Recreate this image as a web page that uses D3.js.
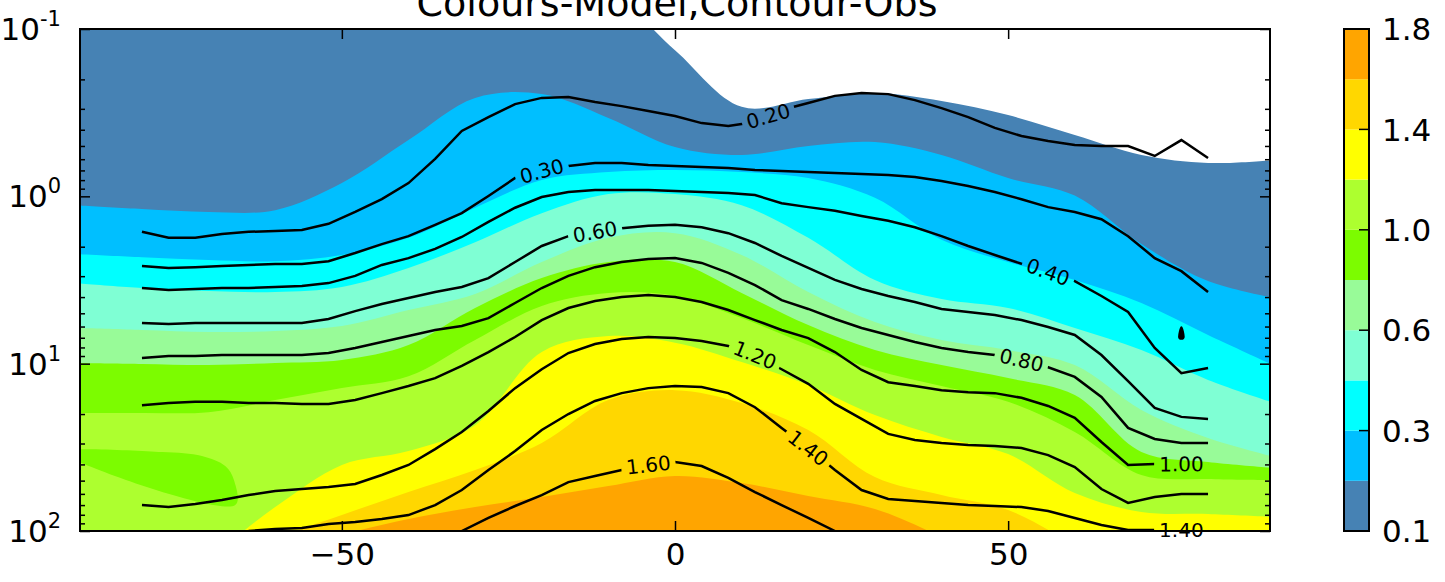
<!DOCTYPE html>
<html>
<head>
<meta charset="utf-8">
<script src="https://cdn.jsdelivr.net/npm/d3@7/dist/d3.min.js"></script>
<style>
html,body{margin:0;padding:0;background:#fff;}
svg{display:block;font-family:"DejaVu Sans",sans-serif;}
</style>
</head>
<body>
<svg id="chart" width="1445" height="582"></svg>
<script>
// ================= DATA =================
const titleText = "Colours-Model,Contour-Obs";
const levels = [0.1, 0.2, 0.3, 0.4, 0.6, 0.8, 1.0, 1.2, 1.4, 1.6, 1.8];
const levelColors = ["#4682b4","#00bfff","#00ffff","#7fffd4","#98fb98","#7cfc00","#adff2f","#ffff00","#ffd700","#ffa500"];
const colorbarTicks = [0.1, 0.3, 0.6, 1.0, 1.4, 1.8];
const xTicks = [-50, 0, 50];
const yMajorTicks = [0.1, 1, 10, 100];

// Model (filled) field: pressure (hPa) of each level boundary, per latitude
const modelLat = [-90,-80,-70,-60,-50,-40,-30,-20,-10,0,10,20,30,40,50,60,70,80,90];
const model010 = [0.05,0.05,0.05,0.05,0.05,0.05,0.05,0.05,0.06,0.134,0.292,0.262,0.241,0.269,0.327,0.43,0.566,0.632,0.607];
const model020 = [1.13,1.19,1.24,1.21,0.833,0.461,0.258,0.245,0.340,0.507,0.566,0.50,0.474,0.566,0.777,0.99,1.93,3.21,4.05];
const model030 = [2.21,2.31,2.40,2.44,2.24,1.77,1.17,0.799,0.716,0.696,0.716,0.777,1.02,1.82,2.47,3.16,4.34,6.74,10.3];
const model040 = [3.30,3.53,3.68,3.73,3.48,2.68,1.88,1.26,0.969,0.969,1.13,1.77,3.16,4.11,4.65,6.12,8.29,12.5,17.2];
const model060 = [6.12,6.29,6.47,6.38,5.96,4.78,3.83,2.47,1.77,1.66,2.24,3.73,5.64,7.22,8.29,10.2,18.9,27.8,36.1];
const model080 = [9.91,10.05,10.19,9.91,9.51,7.74,4.65,3.08,2.47,2.47,3.78,5.88,8.29,10.2,12.2,15.4,33.7,38.7,42.0];
const model100 = [19.7,19.7,19.5,16.5,14.0,11.9,7.22,4.52,3.78,3.94,5.34,7.74,10.9,13.6,16.9,25.6,46.3,48.9,49.6];
const model120 = [250,200,140,71.9,40.3,33.3,23.3,8.52,6.84,7.49,9.78,13.4,20.3,27.4,34.7,59.3,77.0,79.2,82.5];
const model140 = [280,250,200,113,80.3,58.5,43.2,29.8,16.5,14.4,17.2,24.9,47.6,61.0,75.0,121,200,250,280];
const model160 = [300,280,250,149,106,84.8,71.9,62.7,53.9,46.9,51.7,61.8,73.9,108.6,171,250,280,300,300];
// small region of lower values (0.8-1.0) at the lower left
const patchLat = [-92,-77,-71,-67.5,-66.2,-66,-92];
const patchP   = [33.7,33.7,35.6,40.9,49.6,70.0,70.0];

// Observed contours: pressure (hPa) of each contour level, per latitude
const obsLat = [-80,-76,-72,-68,-64,-60,-56,-52,-48,-44,-40,-36,-32,-28,-24,-20,-16,-12,-8,-4,0,4,8,12,16,20,24,28,32,36,40,44,48,52,56,60,64,68,72,76,80];
const obs020 = [1.63,1.77,1.77,1.68,1.63,1.61,1.59,1.46,1.24,1.04,0.833,0.598,0.407,0.336,0.281,0.258,0.255,0.273,0.289,0.309,0.331,0.365,0.38,0.36,0.305,0.277,0.251,0.241,0.245,0.266,0.297,0.336,0.39,0.436,0.467,0.494,0.50,0.50,0.574,0.461,0.59];
const obs030 = [2.61,2.68,2.65,2.61,2.57,2.54,2.54,2.44,2.18,1.93,1.73,1.48,1.26,0.995,0.777,0.706,0.659,0.632,0.632,0.650,0.659,0.668,0.677,0.696,0.706,0.716,0.726,0.736,0.746,0.767,0.81,0.868,0.942,1.04,1.16,1.24,1.37,1.73,2.34,2.80,3.73];
const obs040 = [3.53,3.63,3.58,3.53,3.53,3.48,3.43,3.30,2.99,2.57,2.34,2.06,1.75,1.42,1.17,1.01,0.942,0.917,0.917,0.917,0.929,0.942,0.955,0.982,1.10,1.16,1.22,1.31,1.40,1.53,1.73,1.98,2.24,2.53,2.83,3.21,3.94,4.91,8.06,11.4,10.6];
const obs060 = [5.72,5.80,5.72,5.72,5.72,5.72,5.72,5.41,4.85,4.40,4.05,3.73,3.48,3.08,2.47,1.98,1.73,1.63,1.55,1.50,1.48,1.53,1.66,1.90,2.27,2.68,3.16,3.58,3.94,4.28,4.71,4.91,5.12,5.49,6.04,6.74,8.88,12.7,18.4,20.8,21.4];
const obs080 = [9.25,9.0,9.0,8.88,8.88,8.88,8.88,8.64,8.06,7.42,6.84,6.29,5.96,5.34,4.34,3.53,2.99,2.65,2.47,2.37,2.34,2.50,2.87,3.39,4.17,4.71,5.41,6.12,6.74,7.42,8.06,8.52,8.88,9.51,10.5,12.0,15.8,24.2,28.2,29.8,29.8];
const obs100 = [17.7,17.2,16.9,16.9,17.2,17.2,17.4,17.4,16.5,15.0,13.6,12.2,10.3,8.52,6.93,5.49,4.65,4.22,4.00,3.89,4.00,4.28,4.78,5.49,6.29,7.03,8.52,10.9,12.9,13.6,14.4,14.8,15.0,16.0,17.9,21.1,29.4,40.3,39.8,39.8,39.8];
const obs120 = [70.0,71.9,69.0,65.3,61.0,57.7,56.1,54.6,52.4,46.3,40.3,32.4,25.6,19.2,14.0,10.8,8.64,7.63,7.13,6.93,7.03,7.32,7.84,8.88,10.8,13.2,17.4,21.4,26.3,28.6,29.8,30.6,31.1,31.9,35.2,41.5,56.1,68.0,62.7,60.1,60.1];
const obs140 = [null,null,null,null,100,97.3,96.0,90.8,88.4,84.8,80.3,70.0,56.9,43.2,33.3,24.9,20.0,16.7,15.0,14.0,13.6,13.8,15.0,18.2,24.2,31.9,43.2,56.9,64.4,66.2,68.0,70.0,70.9,71.9,76.0,83.6,92.1,98.7,98.7,98.7,98.7];
const obs160 = [null,null,null,null,null,null,null,null,null,null,null,null,100,83.6,70.9,61.0,51.0,46.9,43.2,40.3,38.7,40.9,48.2,58.5,70.0,83.6,100,null,null,null,null,null,null,null,null,null,null,null,null,null,null];
const obsLevels = [0.2, 0.3, 0.4, 0.6, 0.8, 1.0, 1.2, 1.4, 1.6];
// tiny closed 0.4 contour near 76N
const dropLat = [76, 76.35, 76, 75.65];
const dropP   = [6.05, 6.9, 7.1, 6.9];

// contour labels: level and latitude where they sit
const labelLevels = [0.2, 0.3, 0.6, 0.4, 0.8, 1.2, 1.4, 1.6, 1.0, 1.4];
const labelLats   = [14, -20, -12, 56, 52, 12, 20, -4, 76, 76];

// ================= CHART =================
const modelBounds = [model010, model020, model030, model040, model060, model080, model100, model120, model140, model160];
const obsSeries = [obs020, obs030, obs040, obs060, obs080, obs100, obs120, obs140, obs160];

const svg = d3.select("#chart");
const P = {left: 80, right: 1270, top: 29, bottom: 531};
const x = d3.scaleLinear().domain([-89.3, 89.3]).range([P.left, P.right]);
const y = d3.scaleLog().domain([0.1, 100]).range([P.top, P.bottom]);

const defs = svg.append("defs");
defs.append("clipPath").attr("id", "plotclip").append("rect")
  .attr("x", P.left).attr("y", P.top)
  .attr("width", P.right - P.left).attr("height", P.bottom - P.top);

// ---- filled model field ----
const fills = svg.append("g").attr("clip-path", "url(#plotclip)");
const area = d3.area()
  .x((d, i) => x(modelLat[i]))
  .y0(P.bottom + 80)
  .y1(d => y(d))
  .curve(d3.curveCatmullRom.alpha(0.5));
const patchLine = d3.line()
  .x((d, i) => x(patchLat[i]))
  .y(d => y(d))
  .curve(d3.curveCatmullRomClosed.alpha(0.5));

modelBounds.forEach((b, i) => {
  fills.append("path").attr("d", area(b)).attr("fill", levelColors[i]);
  if (levels[i] === 1.0) {
    fills.append("path").attr("d", patchLine(patchP.slice(0, -1))).attr("fill", levelColors[5]);
  }
});

// ---- observed contour lines ----
const obsG = svg.append("g").attr("clip-path", "url(#plotclip)");
const labelG = svg.append("g");
const line = d3.line()
  .defined(d => d != null)
  .x((d, i) => x(obsLat[i]))
  .y(d => y(d));

function linePoint(vals, lat) {
  let i = d3.bisectRight(obsLat, lat) - 1;
  i = Math.max(0, Math.min(obsLat.length - 2, i));
  const x0 = x(obsLat[i]), x1 = x(obsLat[i + 1]);
  const y0 = y(vals[i]), y1 = y(vals[i + 1]);
  const t = (x(lat) - x0) / (x1 - x0);
  return [x(lat), y0 + t * (y1 - y0)];
}

const maskRects = [];
labelLevels.forEach((lev, k) => {
  const vals = obsSeries[obsLevels.indexOf(lev)];
  const lat = labelLats[k];
  const valid = obsLat.filter((l, i) => vals[i] != null);
  const lo = Math.max(lat - 6, d3.min(valid)), hi = Math.min(lat + 6, d3.max(valid));
  const p = linePoint(vals, lat);
  const a = linePoint(vals, lo), b = linePoint(vals, hi);
  const ang = Math.atan2(b[1] - a[1], b[0] - a[0]) * 180 / Math.PI;
  const t = labelG.append("text")
    .attr("transform", `translate(${p[0]},${p[1]}) rotate(${ang})`)
    .attr("text-anchor", "middle")
    .attr("dy", "0.36em")
    .attr("font-size", 20)
    .attr("fill", "#000")
    .text(lev.toFixed(2));
  const w = t.node().getComputedTextLength();
  maskRects.push({cx: p[0], cy: p[1], ang, w});
});

const mask = defs.append("mask").attr("id", "lblmask")
  .attr("maskUnits", "userSpaceOnUse")
  .attr("x", 0).attr("y", 0).attr("width", 1445).attr("height", 582);
mask.append("rect").attr("x", 0).attr("y", 0).attr("width", 1445).attr("height", 582).attr("fill", "#fff");
maskRects.forEach(r => {
  mask.append("rect")
    .attr("transform", `translate(${r.cx},${r.cy}) rotate(${r.ang})`)
    .attr("x", -r.w / 2 - 5).attr("y", -10)
    .attr("width", r.w + 10).attr("height", 20)
    .attr("fill", "#000");
});

const linesInner = obsG.append("g").attr("mask", "url(#lblmask)");
obsSeries.forEach(s => {
  linesInner.append("path").attr("d", line(s))
    .attr("fill", "none").attr("stroke", "#000").attr("stroke-width", 2.5);
});
const dropLine = d3.line().x((d, i) => x(dropLat[i])).y(d => y(d)).curve(d3.curveCardinalClosed);
linesInner.append("path").attr("d", dropLine(dropP))
  .attr("fill", "#000").attr("stroke", "#000").attr("stroke-width", 2);

// ---- axes ----
const minorVals = [];
[0.1, 1, 10].forEach(d => { for (let k = 2; k <= 9; k++) minorVals.push(d * k); });

function tickAxis(axis, transform) {
  svg.append("g").attr("transform", transform).call(axis)
    .call(g => g.select(".domain").remove())
    .call(g => g.selectAll(".tick line").attr("stroke", "#000").attr("stroke-width", 1.5));
}
tickAxis(d3.axisLeft(y).tickValues(yMajorTicks).tickSize(-10).tickFormat(""), `translate(${P.left},0)`);
tickAxis(d3.axisLeft(y).tickValues(minorVals).tickSize(-5).tickFormat(""), `translate(${P.left},0)`);
tickAxis(d3.axisRight(y).tickValues(yMajorTicks).tickSize(-10).tickFormat(""), `translate(${P.right},0)`);
tickAxis(d3.axisRight(y).tickValues(minorVals).tickSize(-5).tickFormat(""), `translate(${P.right},0)`);
tickAxis(d3.axisTop(x).tickValues(xTicks).tickSize(-10).tickFormat(""), `translate(0,${P.top})`);

const xAxisG = svg.append("g").attr("transform", `translate(0,${P.bottom})`)
  .call(d3.axisBottom(x).tickValues(xTicks).tickSize(-10).tickPadding(12))
  .call(g => g.select(".domain").remove());
xAxisG.selectAll(".tick line").attr("stroke", "#000").attr("stroke-width", 1.5);
xAxisG.selectAll("text").attr("font-size", 31).attr("font-family", "DejaVu Sans").attr("fill", "#000");

svg.append("rect")
  .attr("x", P.left).attr("y", P.top)
  .attr("width", P.right - P.left).attr("height", P.bottom - P.top)
  .attr("fill", "none").attr("stroke", "#000").attr("stroke-width", 2);

// y tick labels 10^n
yMajorTicks.forEach(v => {
  const e = Math.round(Math.log10(v));
  const t = svg.append("text")
    .attr("x", 61).attr("y", y(v) + 11)
    .attr("text-anchor", "end").attr("font-size", 31).attr("fill", "#000");
  t.append("tspan").text("10");
  t.append("tspan").attr("dy", -14).attr("font-size", 21).text(e < 0 ? "-" + (-e) : String(e));
});

// title (its top is cut by the page edge, as in the original figure)
svg.append("text")
  .attr("x", (P.left + P.right) / 2 + 2).attr("y", 16)
  .attr("text-anchor", "middle").attr("font-size", 38).attr("fill", "#000")
  .text(titleText);

// ---- colorbar ----
const cb = {x: 1344, w: 25};
const yc = d3.scaleLinear().domain([0, levels.length - 1]).range([P.bottom, P.top]);
const cbG = svg.append("g");
levelColors.forEach((c, i) => {
  cbG.append("rect")
    .attr("x", cb.x).attr("y", yc(i + 1))
    .attr("width", cb.w).attr("height", yc(i) - yc(i + 1))
    .attr("fill", c);
});
colorbarTicks.forEach(v => {
  const idx = levels.indexOf(v);
  cbG.append("line")
    .attr("x1", cb.x + cb.w - 10).attr("x2", cb.x + cb.w)
    .attr("y1", yc(idx)).attr("y2", yc(idx))
    .attr("stroke", "#000").attr("stroke-width", 1.5);
  cbG.append("text")
    .attr("x", cb.x + cb.w + 13).attr("y", yc(idx)).attr("dy", "0.36em")
    .attr("font-size", 31).attr("fill", "#000")
    .text(v.toFixed(1));
});
cbG.append("rect")
  .attr("x", cb.x).attr("y", P.top)
  .attr("width", cb.w).attr("height", P.bottom - P.top)
  .attr("fill", "none").attr("stroke", "#000").attr("stroke-width", 2);
</script>
</body>
</html>
